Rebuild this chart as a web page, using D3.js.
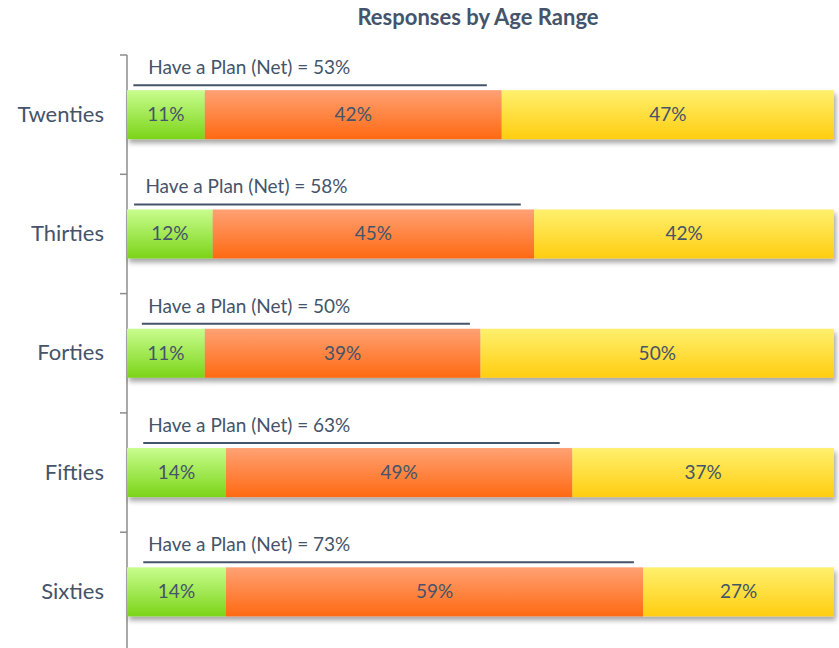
<!DOCTYPE html>
<html>
<head>
<meta charset="utf-8">
<script src="https://cdn.jsdelivr.net/npm/d3@7"></script>
<style>
  html, body { margin: 0; padding: 0; background: #fff; }
  svg { display: block; font-family: Lato, "Open Sans", sans-serif; }
</style>
</head>
<body>
<div id="chart"></div>
<script>
// ---- data ----
const categories = ["Twenties", "Thirties", "Forties", "Fifties", "Sixties"];
const seriesKeys = ["green", "orange", "yellow"];
const greenValues  = [11, 12, 11, 14, 14];
const orangeValues = [42, 45, 39, 49, 59];
const yellowValues = [47, 42, 50, 37, 27];
const netValues    = [53, 58, 50, 63, 73];
// annotation extents (share of bar width)
const netLineStart  = [0.009, 0.010, 0.021, 0.023, 0.023];
const netLineEnd    = [0.509, 0.557, 0.485, 0.612, 0.717];
const netLabelStart = [0.030, 0.026, 0.030, 0.030, 0.030];
const titleText = "Responses by Age Range";

const W = 839, H = 648;
const margin = { left: 127, right: 5, top: 55, bottom: -3.5 };

const rows = categories.map((c, i) => ({
  cat: c, green: greenValues[i], orange: orangeValues[i], yellow: yellowValues[i]
}));
const stacked = d3.stack().keys(seriesKeys).offset(d3.stackOffsetExpand)(rows);

const x = d3.scaleLinear().domain([0, 1]).range([margin.left, W - margin.right]);
const y = d3.scaleBand().domain(categories).range([margin.top, H - margin.bottom]).paddingInner(0).paddingOuter(0);
const barH = 49;

const svg = d3.select("#chart").append("svg").attr("width", W).attr("height", H);
const defs = svg.append("defs");

const grads = {
  green:  ["#c8fd8e", "#7bd418"],
  orange: ["#ffa174", "#ff6912"],
  yellow: ["#fff06e", "#ffcd10"]
};
Object.entries(grads).forEach(([k, [c0, c1]]) => {
  const g = defs.append("linearGradient").attr("id", "g-" + k)
    .attr("x1", 0).attr("y1", 0).attr("x2", 0).attr("y2", 1);
  g.append("stop").attr("offset", "0%").attr("stop-color", c0);
  g.append("stop").attr("offset", "100%").attr("stop-color", c1);
});
const f = defs.append("filter").attr("id", "shadow")
  .attr("x", "-5%").attr("y", "-20%").attr("width", "110%").attr("height", "160%");
f.append("feDropShadow").attr("dx", 2).attr("dy", 4).attr("stdDeviation", 2.5)
  .attr("flood-color", "#000").attr("flood-opacity", 0.35);

// title
svg.append("text").attr("x", 478).attr("y", 25)
  .attr("text-anchor", "middle").attr("font-weight", "bold")
  .attr("font-size", 22).attr("fill", "#44546a").text(titleText);

// axis
const axis = d3.axisLeft(y).tickSize(0).tickPadding(23);
const axG = svg.append("g").attr("transform", `translate(${margin.left},0)`).call(axis);
axG.select(".domain").attr("stroke", "#8c8c8c").attr("stroke-width", 1.5)
  .attr("d", `M0,${margin.top}V${H}`);
axG.selectAll(".tick text").attr("font-size", 22).attr("fill", "#44546a")
  .attr("font-family", "Lato, 'Open Sans', sans-serif");
// tick marks at band boundaries
svg.append("g").selectAll("line").data(categories).join("line")
  .attr("x1", margin.left - 7).attr("x2", margin.left)
  .attr("y1", d => y(d)).attr("y2", d => y(d))
  .attr("stroke", "#8c8c8c").attr("stroke-width", 1.5);

const barY = c => y(c) + (y.bandwidth() - barH) / 2;

// bars
const barsG = svg.append("g").attr("filter", "url(#shadow)");
stacked.forEach(s => {
  barsG.selectAll(null).data(s).join("rect")
    .attr("x", d => x(d[0])).attr("width", d => x(d[1]) - x(d[0]))
    .attr("y", d => barY(d.data.cat)).attr("height", barH)
    .attr("fill", `url(#g-${s.key})`);
});
// value labels
stacked.forEach(s => {
  svg.append("g").selectAll("text").data(s).join("text")
    .attr("x", d => (x(d[0]) + x(d[1])) / 2)
    .attr("y", d => barY(d.data.cat) + barH / 2 + 6.5)
    .attr("text-anchor", "middle").attr("font-size", 19).attr("fill", "#44546a")
    .text(d => d.data[s.key] + "%");
});

// net annotations
const ann = svg.append("g");
ann.selectAll("line").data(categories).join("line")
  .attr("x1", (d, i) => x(netLineStart[i])).attr("x2", (d, i) => x(netLineEnd[i]))
  .attr("y1", d => barY(d) - 5).attr("y2", d => barY(d) - 5)
  .attr("stroke", "#44546a").attr("stroke-width", 2);
ann.selectAll("text").data(categories).join("text")
  .attr("x", (d, i) => x(netLabelStart[i]))
  .attr("y", d => barY(d) - 16)
  .attr("font-size", 19).attr("fill", "#44546a")
  .text((d, i) => `Have a Plan (Net) = ${netValues[i]}%`);
</script>
</body>
</html>
